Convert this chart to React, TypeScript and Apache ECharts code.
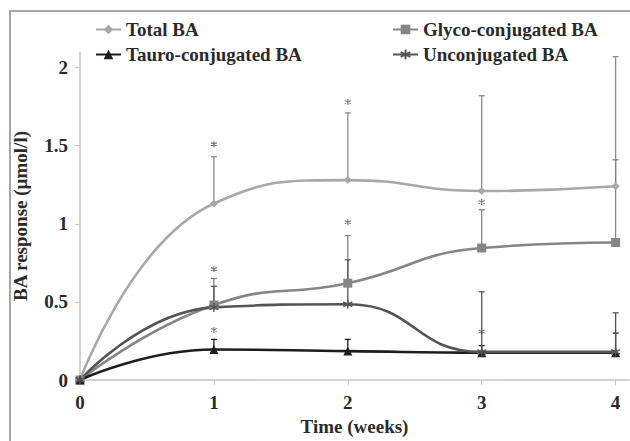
import React, { useEffect, useRef } from "react";
import * as echarts from "echarts";

const weeks = [0, 1, 2, 3, 4];
const totalBA = [0, 1.13, 1.28, 1.21, 1.24];
const glycoBA = [0, 0.48, 0.62, 0.845, 0.88];
const tauroBA = [0, 0.195, 0.185, 0.175, 0.175];
const unconjBA = [0, 0.465, 0.485, 0.18, 0.18];

const totalUpper = [0, 1.43, 1.71, 1.82, 2.07];
const glycoUpper = [0, 0.65, 0.925, 1.09, 1.41];
const unconjUpper = [0, 0.6, 0.77, 0.565, 0.43];
const tauroUpper = [0, 0.26, 0.26, 0.22, 0.3];

const sigX = [1, 1, 1, 2, 2, 3, 3];
const sigY = [1.51, 0.71, 0.32, 1.78, 1.01, 1.14, 0.31];

const xTicks = [0, 1, 2, 3, 4];
const yTicks = [0, 0.5, 1, 1.5, 2];

const names = ["Total BA", "Glyco-conjugated BA", "Tauro-conjugated BA", "Unconjugated BA"];
const colors = ["#a8a8a8", "#858585", "#1e1e1e", "#555555"];

const FONT = "'Liberation Serif', 'Times New Roman', serif";
const ASTER = "path://M5,0L5,10M0,2.5L10,7.5M0,7.5L10,2.5";
const TXT = "#2a2a2a";

function pairs(vals: number[]) {
  return weeks.map((w, i) => [w, vals[i]]);
}
function errPairs(vals: number[], up: number[]) {
  return weeks.map((w, i) => [w, vals[i], up[i]]).filter((d) => d[0] !== 0);
}

function errSeries(vals: number[], up: number[], color: string) {
  return {
    type: "custom",
    data: errPairs(vals, up),
    z: 1,
    itemStyle: { color },
    renderItem: (params: any, api: any) => {
      const x = api.value(0);
      const p0 = api.coord([x, api.value(1)]);
      const p1 = api.coord([x, api.value(2)]);
      const st = { stroke: color, lineWidth: 1.3 };
      return {
        type: "group",
        children: [
          { type: "line", shape: { x1: p0[0], y1: p0[1], x2: p1[0], y2: p1[1] }, style: st },
          { type: "line", shape: { x1: p1[0] - 3, y1: p1[1], x2: p1[0] + 3, y2: p1[1] }, style: st },
        ],
      };
    },
  };
}

export default function App() {
  const ref = useRef<HTMLDivElement>(null);
  useEffect(() => {
    if (!ref.current) return;
    const chart = echarts.init(ref.current, null, { renderer: "svg" });
    const symbols = ["diamond", "rect", "triangle", ASTER];
    const sizes = [8, 9, 9, 9];
    const vals = [totalBA, glycoBA, tauroBA, unconjBA];
    const ups = [totalUpper, glycoUpper, tauroUpper, unconjUpper];
    const lineSeries = names.map((n, i) => ({
      name: n,
      type: "line",
      data: pairs(vals[i]),
      smooth: 0.5,
      symbol: symbols[i],
      symbolSize: sizes[i],
      showAllSymbol: true,
      z: 3,
      lineStyle: { color: colors[i], width: 2.6 },
      itemStyle:
        i === 3
          ? { color: colors[i], borderColor: colors[i], borderWidth: 1.5 }
          : { color: colors[i] },
    }));
    const legendPos = [
      { left: 95, top: 20 },
      { left: 392, top: 20 },
      { left: 95, top: 45 },
      { left: 392, top: 45 },
    ];
    chart.setOption({
      animation: false,
      backgroundColor: "#ffffff",
      graphic: [
        {
          type: "rect",
          shape: { x: 10, y: 11, width: 660, height: 470 },
          style: { fill: "none", stroke: "#a6a6a6", lineWidth: 2 },
          silent: true,
        },
      ],
      legend: names.map((n, i) => ({
        data: [n],
        left: legendPos[i].left,
        top: legendPos[i].top,
        itemWidth: 25,
        itemHeight: 12,
        padding: 0,
        textStyle: { fontFamily: FONT, fontWeight: "bold", fontSize: 19, color: TXT },
      })),
      grid: { left: 80, top: 52, width: 549, height: 328 },
      xAxis: {
        type: "value",
        min: 0,
        max: 4.1,
        interval: 1,
        name: "Time (weeks)",
        nameLocation: "middle",
        nameGap: 36,
        nameTextStyle: { fontFamily: FONT, fontWeight: "bold", fontSize: 19, color: TXT },
        axisLine: { lineStyle: { color: "#c4c4c4", width: 1.5 } },
        axisTick: { customValues: xTicks, length: 5, lineStyle: { color: "#c4c4c4" } },
        axisLabel: {
          customValues: xTicks,
          margin: 13,
          fontFamily: FONT,
          fontWeight: "bold",
          fontSize: 19,
          color: TXT,
        },
        splitLine: { show: false },
      },
      yAxis: {
        type: "value",
        min: 0,
        max: 2.1,
        interval: 0.5,
        name: "BA response (µmol/l)",
        nameLocation: "middle",
        nameGap: 50,
        nameRotate: 90,
        nameTextStyle: { fontFamily: FONT, fontWeight: "bold", fontSize: 19, color: TXT },
        axisLine: { show: true, lineStyle: { color: "#c4c4c4", width: 1.5 } },
        axisTick: { show: true, customValues: yTicks, length: 5, lineStyle: { color: "#c4c4c4" } },
        axisLabel: {
          customValues: yTicks,
          margin: 12,
          fontFamily: FONT,
          fontWeight: "bold",
          fontSize: 19,
          color: TXT,
        },
        splitLine: { show: false },
      },
      series: [
        ...names.map((n, i) => errSeries(vals[i], ups[i], i === 0 ? "#8a8a8a" : colors[i])),
        ...lineSeries,
        {
          type: "scatter",
          data: sigX.map((x, i) => [x, sigY[i]]),
          z: 4,
          symbol: ASTER,
          symbolSize: 6,
          itemStyle: { color: "#5a5a5a", borderColor: "#5a5a5a", borderWidth: 1.2 },
          silent: true,
        },
      ],
    });
    return () => chart.dispose();
  }, []);
  return <div ref={ref} style={{ width: 630, height: 441, position: "absolute", left: 0, top: 0 }} />;
}
